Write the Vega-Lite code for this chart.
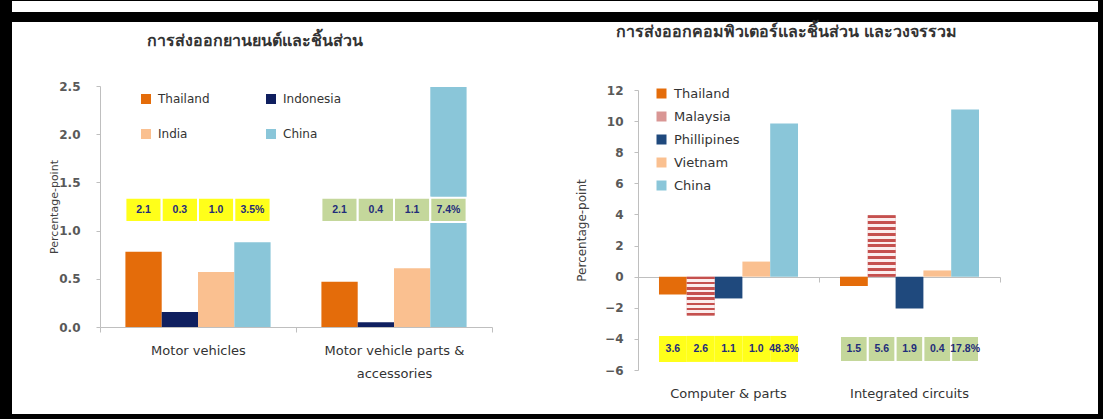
{
  "$schema": "https://vega.github.io/schema/vega-lite/v6.json",
  "background": "#000000",
  "padding": {"left": 12, "top": 0, "right": 5, "bottom": 6},
  "spacing": 10,
  "config": {
    "view": {"fill": "white", "stroke": null},
    "font": "DejaVu Sans",
    "concat": {"spacing": 0}
  },
  "datasets": {
    "auto": [
      {"cat": "Motor vehicles", "country": "Thailand", "value": 0.78, "label": "2.1"},
      {"cat": "Motor vehicles", "country": "Indonesia", "value": 0.155, "label": "0.3"},
      {"cat": "Motor vehicles", "country": "India", "value": 0.57, "label": "1.0"},
      {"cat": "Motor vehicles", "country": "China", "value": 0.88, "label": "3.5%"},
      {"cat": "Motor vehicle parts & accessories", "country": "Thailand", "value": 0.47, "label": "2.1"},
      {"cat": "Motor vehicle parts & accessories", "country": "Indonesia", "value": 0.05, "label": "0.4"},
      {"cat": "Motor vehicle parts & accessories", "country": "India", "value": 0.61, "label": "1.1"},
      {"cat": "Motor vehicle parts & accessories", "country": "China", "value": 2.49, "label": "7.4%"}
    ],
    "comp": [
      {"cat": "Computer & parts", "country": "Thailand", "value": -1.15, "label": "3.6"},
      {"cat": "Computer & parts", "country": "Malaysia", "value": -2.5, "label": "2.6"},
      {"cat": "Computer & parts", "country": "Phillipines", "value": -1.4, "label": "1.1"},
      {"cat": "Computer & parts", "country": "Vietnam", "value": 0.97, "label": "1.0"},
      {"cat": "Computer & parts", "country": "China", "value": 9.85, "label": "48.3%"},
      {"cat": "Integrated circuits", "country": "Thailand", "value": -0.6, "label": "1.5"},
      {"cat": "Integrated circuits", "country": "Malaysia", "value": 3.95, "label": "5.6"},
      {"cat": "Integrated circuits", "country": "Phillipines", "value": -2.05, "label": "1.9"},
      {"cat": "Integrated circuits", "country": "Vietnam", "value": 0.4, "label": "0.4"},
      {"cat": "Integrated circuits", "country": "China", "value": 10.75, "label": "17.8%"}
    ]
  },
  "vconcat": [
    {
      "width": 1086,
      "height": 11,
      "view": {"fill": "white", "stroke": null},
      "data": {"values": [{"t": ""}]},
      "mark": {"type": "text"},
      "encoding": {"text": {"field": "t"}}
    },
    {
      "hconcat": [
        {
          "width": 543,
          "height": 392,
          "title": {"text": "การส่งออกยานยนต์และชิ้นส่วน", "fontSize": 16, "fontWeight": "bold", "color": "#333333", "anchor": "middle", "frame": "group", "offset": 0, "baseline": "middle", "dy": 35, "dx": -29},
          "data": {"name": "auto"},
          "layer": [
            {
              "mark": {"type": "bar"},
              "encoding": {
                "x": {"field": "cat", "type": "nominal", "scale": {"domain": ["Motor vehicles", "Motor vehicle parts & accessories"], "range": [88, 480], "paddingInner": 0, "paddingOuter": 0},
                  "axis": {"title": null, "labelAngle": 0, "labelLimit": 400, "labelExpr": "datum.label == 'Motor vehicle parts & accessories' ? ['Motor vehicle parts &', 'accessories'] : datum.label", "labelLineHeight": 23, "labelFontSize": 13, "labelColor": "#333333", "labelPadding": 12, "tickSize": 5, "tickBand": "extent", "domainColor": "#BFBFBF", "tickColor": "#BFBFBF", "offset": -87}},
                "xOffset": {"field": "country", "type": "nominal", "scale": {"domain": ["Thailand", "Indonesia", "India", "China"], "paddingInner": 0, "paddingOuter": 0.7}},
                "y": {"field": "value", "type": "quantitative", "scale": {"domain": [0, 2.5], "range": [305, 64], "nice": false, "zero": false},
                  "axis": {"title": "Percentage-point", "values": [0, 0.5, 1, 1.5, 2, 2.5], "format": ".1f", "offset": -88, "grid": false, "domainColor": "#BFBFBF", "tickColor": "#BFBFBF", "tickSize": 4, "labelPadding": 16, "labelFontSize": 12, "labelFontWeight": "bold", "labelColor": "#595959", "titleFontSize": 11, "titleFontWeight": "normal", "titleColor": "#404040", "titleX": -41}},
                "color": {"field": "country", "type": "nominal", "scale": {"domain": ["Thailand", "Indonesia", "India", "China"], "range": ["#E46C0A", "#0F1F5F", "#FAC090", "#8AC6D9"]},
                  "legend": {"title": null, "orient": "none", "direction": "horizontal", "legendX": 128, "legendY": 71, "columns": 2, "columnPadding": 55, "rowPadding": 23, "symbolType": "square", "symbolSize": 100, "symbolStrokeWidth": 0, "labelFontSize": 12, "labelColor": "#333333", "labelOffset": 6, "padding": 0}}
              }
            },
            {
              "mark": {"type": "bar", "stroke": "white", "strokeWidth": 2},
              "encoding": {
                "x": {"field": "cat", "type": "nominal", "scale": {"domain": ["Motor vehicles", "Motor vehicle parts & accessories"]}},
                "xOffset": {"field": "country", "type": "nominal", "scale": {"domain": ["Thailand", "Indonesia", "India", "China"]}},
                "y": {"datum": 1.09},
                "y2": {"datum": 1.34},
                "color": {"condition": {"test": "datum.cat === 'Motor vehicles'", "value": "#FFFF1A"}, "value": "#C4D79B"}
              }
            },
            {
              "mark": {"type": "text", "fontWeight": "bold", "fontSize": 10.5, "font": "Liberation Sans", "color": "#1F2C7A"},
              "encoding": {
                "x": {"field": "cat", "type": "nominal", "scale": {"domain": ["Motor vehicles", "Motor vehicle parts & accessories"]}},
                "xOffset": {"field": "country", "type": "nominal", "scale": {"domain": ["Thailand", "Indonesia", "India", "China"]}},
                "y": {"datum": 1.215},
                "text": {"field": "label"}
              }
            }
          ]
        },
        {
          "width": 543,
          "height": 392,
          "title": {"text": "การส่งออกคอมพิวเตอร์และชิ้นส่วน และวงจรรวม", "fontSize": 16, "fontWeight": "bold", "color": "#333333", "anchor": "middle", "frame": "group", "offset": 0, "baseline": "middle", "dy": 26, "dx": -40},
          "data": {"name": "comp"},
          "resolve": {"axis": {"x": "independent"}},
          "layer": [
            {
              "mark": {"type": "bar"},
              "encoding": {
                "x": {"field": "cat", "type": "nominal", "scale": {"domain": ["Computer & parts", "Integrated circuits"], "range": [83, 445], "paddingInner": 0, "paddingOuter": 0},
                  "axis": {"orient": "bottom", "title": null, "labels": false, "tickSize": 5, "tickBand": "extent", "domainColor": "#BFBFBF", "tickColor": "#BFBFBF", "offset": -137}},
                "xOffset": {"field": "country", "type": "nominal", "scale": {"domain": ["Thailand", "Malaysia", "Phillipines", "Vietnam", "China"], "paddingInner": 0, "paddingOuter": 0.755}},
                "y": {"field": "value", "type": "quantitative", "scale": {"domain": [-6, 12], "range": [348, 68], "nice": false, "zero": false},
                  "axis": {"title": "Percentage-point", "values": [-6, -4, -2, 0, 2, 4, 6, 8, 10, 12], "format": "d", "offset": -83, "grid": false, "domainColor": "#BFBFBF", "tickColor": "#BFBFBF", "tickSize": 4, "labelPadding": 11, "labelFontSize": 12, "labelFontWeight": "bold", "labelColor": "#595959", "titleFontSize": 12, "titleFontWeight": "normal", "titleColor": "#404040", "titleX": -50}},
                "color": {"field": "country", "type": "nominal", "scale": {"domain": ["Thailand", "Malaysia", "Phillipines", "Vietnam", "China"], "range": ["#E46C0A", "#D99694", "#1F497D", "#FAC090", "#8AC6D9"]},
                  "legend": {"title": null, "orient": "none", "legendX": 100, "legendY": 65, "columns": 1, "rowPadding": 9, "symbolType": "square", "symbolSize": 100, "symbolStrokeWidth": 0, "labelFontSize": 13, "labelColor": "#333333", "labelOffset": 6, "padding": 0}}
              }
            },
            {
              "transform": [{"filter": "datum.country === 'Malaysia' && datum.cat === 'Computer & parts'"}],
              "mark": {"type": "bar", "fill": {"gradient": "linear", "x1": 0, "y1": 0, "x2": 0, "y2": 1, "stops": [
                {"offset": 0, "color": "#C5504E"}, {"offset": 0.0667, "color": "#C5504E"},
                {"offset": 0.0667, "color": "#FBEDED"}, {"offset": 0.1333, "color": "#FBEDED"},
                {"offset": 0.1333, "color": "#C5504E"}, {"offset": 0.2, "color": "#C5504E"},
                {"offset": 0.2, "color": "#FBEDED"}, {"offset": 0.2667, "color": "#FBEDED"},
                {"offset": 0.2667, "color": "#C5504E"}, {"offset": 0.3333, "color": "#C5504E"},
                {"offset": 0.3333, "color": "#FBEDED"}, {"offset": 0.4, "color": "#FBEDED"},
                {"offset": 0.4, "color": "#C5504E"}, {"offset": 0.4667, "color": "#C5504E"},
                {"offset": 0.4667, "color": "#FBEDED"}, {"offset": 0.5333, "color": "#FBEDED"},
                {"offset": 0.5333, "color": "#C5504E"}, {"offset": 0.6, "color": "#C5504E"},
                {"offset": 0.6, "color": "#FBEDED"}, {"offset": 0.6667, "color": "#FBEDED"},
                {"offset": 0.6667, "color": "#C5504E"}, {"offset": 0.7333, "color": "#C5504E"},
                {"offset": 0.7333, "color": "#FBEDED"}, {"offset": 0.8, "color": "#FBEDED"},
                {"offset": 0.8, "color": "#C5504E"}, {"offset": 0.8667, "color": "#C5504E"},
                {"offset": 0.8667, "color": "#FBEDED"}, {"offset": 0.9333, "color": "#FBEDED"},
                {"offset": 0.9333, "color": "#C5504E"}, {"offset": 1, "color": "#C5504E"}
              ]}},
              "encoding": {
                "x": {"field": "cat", "type": "nominal", "scale": {"domain": ["Computer & parts", "Integrated circuits"]}, "axis": null},
                "xOffset": {"field": "country", "type": "nominal", "scale": {"domain": ["Thailand", "Malaysia", "Phillipines", "Vietnam", "China"]}},
                "y": {"field": "value", "type": "quantitative"}
              }
            },
            {
              "transform": [{"filter": "datum.country === 'Malaysia' && datum.cat === 'Integrated circuits'"}],
              "mark": {"type": "bar", "fill": {"gradient": "linear", "x1": 0, "y1": 0, "x2": 0, "y2": 1, "stops": [
                {"offset": 0, "color": "#C5504E"}, {"offset": 0.0476, "color": "#C5504E"},
                {"offset": 0.0476, "color": "#FBEDED"}, {"offset": 0.0952, "color": "#FBEDED"},
                {"offset": 0.0952, "color": "#C5504E"}, {"offset": 0.1429, "color": "#C5504E"},
                {"offset": 0.1429, "color": "#FBEDED"}, {"offset": 0.1905, "color": "#FBEDED"},
                {"offset": 0.1905, "color": "#C5504E"}, {"offset": 0.2381, "color": "#C5504E"},
                {"offset": 0.2381, "color": "#FBEDED"}, {"offset": 0.2857, "color": "#FBEDED"},
                {"offset": 0.2857, "color": "#C5504E"}, {"offset": 0.3333, "color": "#C5504E"},
                {"offset": 0.3333, "color": "#FBEDED"}, {"offset": 0.381, "color": "#FBEDED"},
                {"offset": 0.381, "color": "#C5504E"}, {"offset": 0.4286, "color": "#C5504E"},
                {"offset": 0.4286, "color": "#FBEDED"}, {"offset": 0.4762, "color": "#FBEDED"},
                {"offset": 0.4762, "color": "#C5504E"}, {"offset": 0.5238, "color": "#C5504E"},
                {"offset": 0.5238, "color": "#FBEDED"}, {"offset": 0.5714, "color": "#FBEDED"},
                {"offset": 0.5714, "color": "#C5504E"}, {"offset": 0.619, "color": "#C5504E"},
                {"offset": 0.619, "color": "#FBEDED"}, {"offset": 0.6667, "color": "#FBEDED"},
                {"offset": 0.6667, "color": "#C5504E"}, {"offset": 0.7143, "color": "#C5504E"},
                {"offset": 0.7143, "color": "#FBEDED"}, {"offset": 0.7619, "color": "#FBEDED"},
                {"offset": 0.7619, "color": "#C5504E"}, {"offset": 0.8095, "color": "#C5504E"},
                {"offset": 0.8095, "color": "#FBEDED"}, {"offset": 0.8571, "color": "#FBEDED"},
                {"offset": 0.8571, "color": "#C5504E"}, {"offset": 0.9048, "color": "#C5504E"},
                {"offset": 0.9048, "color": "#FBEDED"}, {"offset": 0.9524, "color": "#FBEDED"},
                {"offset": 0.9524, "color": "#C5504E"}, {"offset": 1, "color": "#C5504E"}
              ]}},
              "encoding": {
                "x": {"field": "cat", "type": "nominal", "scale": {"domain": ["Computer & parts", "Integrated circuits"]}, "axis": null},
                "xOffset": {"field": "country", "type": "nominal", "scale": {"domain": ["Thailand", "Malaysia", "Phillipines", "Vietnam", "China"]}},
                "y": {"field": "value", "type": "quantitative"}
              }
            },
            {
              "mark": {"type": "bar", "stroke": "white"},
              "encoding": {
                "x": {"field": "cat", "type": "nominal", "scale": {"domain": ["Computer & parts", "Integrated circuits"]},
                  "axis": {"orient": "bottom", "title": null, "domain": false, "ticks": false, "labelAngle": 0, "labelPadding": 3, "labelFontSize": 13, "labelColor": "#333333", "offset": -30}},
                "xOffset": {"field": "country", "type": "nominal", "scale": {"domain": ["Thailand", "Malaysia", "Phillipines", "Vietnam", "China"]}},
                "y": {"datum": -3.81},
                "y2": {"datum": -5.48},
                "color": {"condition": {"test": "datum.cat === 'Computer & parts'", "value": "#FFFF1A"}, "value": "#C4D79B"},
                "strokeWidth": {"condition": {"test": "datum.cat === 'Computer & parts'", "value": 0}, "value": 2}
              }
            },
            {
              "mark": {"type": "text", "fontWeight": "bold", "fontSize": 10.5, "font": "Liberation Sans", "color": "#1F2C7A"},
              "encoding": {
                "x": {"field": "cat", "type": "nominal", "scale": {"domain": ["Computer & parts", "Integrated circuits"]}, "axis": null},
                "xOffset": {"field": "country", "type": "nominal", "scale": {"domain": ["Thailand", "Malaysia", "Phillipines", "Vietnam", "China"]}},
                "y": {"datum": -4.645},
                "text": {"field": "label"}
              }
            }
          ]
        }
      ],
      "resolve": {"scale": {"color": "independent", "x": "independent", "y": "independent", "xOffset": "independent"}, "legend": {"color": "independent"}}
    }
  ]
}
